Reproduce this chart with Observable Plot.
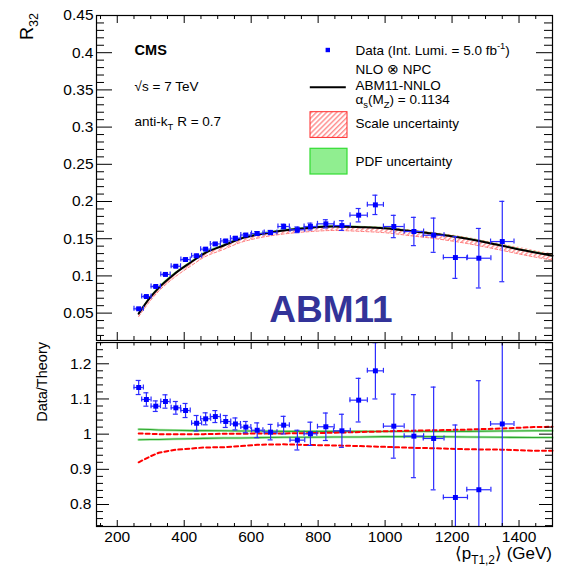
<!DOCTYPE html>
<html><head><meta charset="utf-8">
<script src="https://cdn.jsdelivr.net/npm/d3@7"></script>
<script src="https://cdn.jsdelivr.net/npm/@observablehq/plot@0.6"></script>
<style>
body{margin:0;background:#fff;}
#chart{width:565px;height:572px;}
#chart svg{display:block;}
</style></head><body>
<svg width="0" height="0" style="position:absolute">
 <defs>
  <pattern id="hatch" patternUnits="userSpaceOnUse" width="3.6" height="3.6" patternTransform="rotate(45)">
   <line x1="0.8" y1="0" x2="0.8" y2="3.6" stroke="#ff2020" stroke-width="0.75"/>
  </pattern>
 </defs>
</svg>
<div id="chart"></div>
<script>
// ---------- data ----------
const dataX   = [264, 287, 315, 344, 375, 404, 437, 464, 493, 524, 553, 584, 618, 658, 697, 738, 777, 823, 871, 921, 971, 1026, 1086, 1145, 1210, 1280, 1350];
const dataXErr= [14, 14, 14, 14, 14, 14, 15, 15, 15, 15, 15, 15, 17, 19, 17, 22, 19, 25, 25, 26, 24, 31, 29, 31, 36, 36, 35];
const r32     = [0.0558, 0.0723, 0.0858, 0.102, 0.113, 0.122, 0.127, 0.136, 0.143, 0.147, 0.1507, 0.155, 0.157, 0.1583, 0.1664, 0.162, 0.1664, 0.170, 0.1677, 0.1816, 0.1955, 0.1664, 0.1597, 0.1547, 0.1247, 0.1238, 0.1462];
const r32Err  = [0.0012, 0.0013, 0.0011, 0.0015, 0.0015, 0.0017, 0.0021, 0.0017, 0.0018, 0.0018, 0.0019, 0.0019, 0.0026, 0.0028, 0.0032, 0.0038, 0.0045, 0.0055, 0.0065, 0.009, 0.013, 0.015, 0.019, 0.023, 0.028, 0.040, 0.054];
const ratio   = [1.1326, 1.0985, 1.0795, 1.0928, 1.0748, 1.0672, 1.031, 1.0436, 1.050, 1.036, 1.029, 1.020, 1.011, 1.0057, 1.0256, 0.983, 1.001, 1.021, 1.0095, 1.0966, 1.180, 1.0227, 0.9943, 0.9877, 0.820, 0.842, 1.029];
const ratioErr= [0.020, 0.019, 0.015, 0.019, 0.018, 0.020, 0.022, 0.017, 0.017, 0.017, 0.017, 0.016, 0.021, 0.022, 0.025, 0.028, 0.033, 0.039, 0.047, 0.062, 0.080, 0.091, 0.118, 0.146, 0.206, 0.31, 0.37];

const theoryX   = [264, 299, 324, 369, 419, 458, 518, 568, 618, 697, 777, 847, 926, 996, 1086, 1146, 1245, 1345, 1444, 1500];
const theoryR32 = [0.0493, 0.0714, 0.0840, 0.1020, 0.1180, 0.1297, 0.1409, 0.1500, 0.1553, 0.1610, 0.1647, 0.1664, 0.1655, 0.1641, 0.1597, 0.1566, 0.1500, 0.1409, 0.1318, 0.1272];
const scaleLo   = [0.920, 0.937, 0.947, 0.955, 0.959, 0.962, 0.963, 0.966, 0.970, 0.971, 0.969, 0.968, 0.966, 0.964, 0.961, 0.960, 0.957, 0.956, 0.953, 0.953];
const scaleHi   = [1.002, 1.001, 1.000, 1.000, 1.000, 1.000, 1.001, 1.001, 1.002, 1.002, 1.003, 1.004, 1.006, 1.008, 1.010, 1.011, 1.013, 1.016, 1.020, 1.021];
const pdfLo     = [0.984, 0.985, 0.985, 0.986, 0.987, 0.988, 0.989, 0.989, 0.990, 0.991, 0.991, 0.992, 0.992, 0.993, 0.993, 0.993, 0.992, 0.991, 0.9905, 0.9905];
const pdfHi     = [1.014, 1.013, 1.012, 1.011, 1.010, 1.010, 1.0095, 1.009, 1.009, 1.008, 1.008, 1.008, 1.0078, 1.0076, 1.0076, 1.0076, 1.008, 1.009, 1.0095, 1.0095];

const xTickLabels   = [200, 400, 600, 800, 1000, 1200, 1400];
const yTopTickLabels= [0.05, 0.1, 0.15, 0.2, 0.25, 0.3, 0.35, 0.4, 0.45];
const yBotTickLabels= [0.8, 0.9, 1.0, 1.1, 1.2];

// ---------- tables ----------
const pts = dataX.map((x, i) => ({x, xe: dataXErr[i], y: r32[i], ye: r32Err[i], r: ratio[i], re: ratioErr[i]}));
const th = theoryX.map((x, i) => ({x, y: theoryR32[i], slo: scaleLo[i], shi: scaleHi[i], plo: pdfLo[i], phi: pdfHi[i]}));

const xMinor = d3.range(150, 1501, 50).filter(v => v % 200 !== 0);
const yTopMinor = d3.range(2, 45, 1).map(v => v / 100).filter(v => Math.round(v * 100) % 5 !== 0);
const yBotMinor = d3.range(74, 127, 2).map(v => v / 100).filter(v => Math.round(v * 100) % 10 !== 0);

const FONT = "'Liberation Sans', Arial, Helvetica, sans-serif";
const BLUE = "#0000ff", EBLUE = "#2b2bff";
const W = 565, ML = 96, MR = 13, FW = W - ML - MR;

function errorBars(yv, ev) {
  const c = {stroke: EBLUE, strokeWidth: 1.2, clip: true};
  return [
    Plot.ruleX(pts, {x: "x", y1: d => yv(d) - ev(d), y2: d => yv(d) + ev(d), ...c}),
    Plot.ruleY(pts, {y: yv, x1: d => d.x - d.xe, x2: d => d.x + d.xe, ...c}),
    Plot.ruleY(pts, {y: d => yv(d) - ev(d), x1: "x", x2: "x", insetLeft: -2.5, insetRight: -2.5, ...c}),
    Plot.ruleY(pts, {y: d => yv(d) + ev(d), x1: "x", x2: "x", insetLeft: -2.5, insetRight: -2.5, ...c}),
    Plot.ruleX(pts, {x: d => d.x - d.xe, y1: yv, y2: yv, insetTop: -2.5, insetBottom: -2.5, ...c}),
    Plot.ruleX(pts, {x: d => d.x + d.xe, y1: yv, y2: yv, insetTop: -2.5, insetBottom: -2.5, ...c}),
    Plot.dot(pts, {x: "x", y: yv, symbol: "square", r: 2.8, fill: BLUE, clip: true})
  ];
}

function frameTicks(fh, yMaj, yMin, yl, ys, xtl, xts, xbl, xbs) {
  const k = {stroke: "#000", strokeWidth: 1};
  return [
    Plot.ruleY(yMaj, {insetRight: FW - yl, ...k}),
    Plot.ruleY(yMaj, {insetLeft: FW - yl, ...k}),
    Plot.ruleY(yMin, {insetRight: FW - ys, ...k}),
    Plot.ruleY(yMin, {insetLeft: FW - ys, ...k}),
    Plot.ruleX(xTickLabels, {insetBottom: fh - xtl, ...k}),
    Plot.ruleX(xMinor, {insetBottom: fh - xts, ...k}),
    Plot.ruleX(xTickLabels, {insetTop: fh - xbl, ...k}),
    Plot.ruleX(xMinor, {insetTop: fh - xbs, ...k}),
    Plot.frame({stroke: "#000", strokeWidth: 1.2})
  ];
}

function rich(svg, o) {
  const t = d3.select(svg).append("text")
    .attr("x", o.x || 0).attr("y", o.y || 0)
    .attr("font-family", o.family || FONT).attr("font-size", o.size)
    .attr("font-weight", o.weight || "normal")
    .attr("fill", o.fill || "#000")
    .attr("text-anchor", o.anchor || "start");
  if (o.transform) t.attr("transform", o.transform);
  let cur = 0;
  for (const [s, k] of o.parts) {
    const target = k === "sub" ? o.size * 0.3 : k === "sup" ? -o.size * 0.4 : 0;
    t.append("tspan").attr("dy", target - cur).attr("font-size", k ? o.size * 0.7 : o.size).text(s);
    cur = target;
  }
}

// ---------- top panel ----------
const TOPH = 341, TMT = 15, TMB = 1, TFH = TOPH - TMT - TMB;
const topChart = Plot.plot({
  width: W, height: TOPH,
  marginTop: TMT, marginBottom: TMB, marginLeft: ML, marginRight: MR,
  style: {fontFamily: FONT, fontSize: "15.5px", color: "#000", background: "#fff"},
  x: {domain: [138, 1500], axis: null},
  y: {domain: [0.0132, 0.45], ticks: yTopTickLabels, tickSize: 0, tickPadding: 3,
      tickFormat: d => String(+d.toFixed(2)), label: null},
  marks: [
    Plot.areaY(th, {x: "x", y1: d => d.y * d.plo, y2: d => d.y * d.phi, fill: "#90ee90", curve: "monotone-x"}),
    Plot.areaY(th, {x: "x", y1: d => d.y * d.slo, y2: d => d.y * d.shi, fill: "url(#hatch)", curve: "monotone-x"}),
    Plot.line(th, {x: "x", y: d => d.y * d.slo, stroke: "#ff4040", strokeWidth: 0.7, strokeDasharray: "3,2", curve: "monotone-x"}),
    Plot.line(th, {x: "x", y: "y", stroke: "#000", strokeWidth: 2, curve: "monotone-x"}),
    ...errorBars(d => d.y, d => d.ye),
    ...frameTicks(TFH, yTopTickLabels, yTopMinor, 16, 8, 8, 4, 8, 4)
  ]
});

// ---------- bottom panel ----------
const BOTH = 231, BMT = 1, BMB = 46, BFH = BOTH - BMT - BMB;
const botChart = Plot.plot({
  width: W, height: BOTH,
  marginTop: BMT, marginBottom: BMB, marginLeft: ML, marginRight: MR,
  style: {fontFamily: FONT, fontSize: "15.5px", color: "#000", background: "#fff"},
  x: {domain: [138, 1500], ticks: xTickLabels, tickSize: 0, tickPadding: 4, tickFormat: d => String(d), label: null},
  y: {domain: [0.7375, 1.2605], ticks: yBotTickLabels, tickSize: 0, tickPadding: 5,
      tickFormat: d => String(+d.toFixed(1)), label: null},
  marks: [
    Plot.line(th, {x: "x", y: "phi", stroke: "#a8e6a8", strokeWidth: 2.6}),
    Plot.line(th, {x: "x", y: "plo", stroke: "#a8e6a8", strokeWidth: 2.6}),
    Plot.line(th, {x: "x", y: "phi", stroke: "#2ea82e", strokeWidth: 1.1}),
    Plot.line(th, {x: "x", y: "plo", stroke: "#2ea82e", strokeWidth: 1.1}),
    Plot.line(th, {x: "x", y: "shi", stroke: "#ff0000", strokeWidth: 2, strokeDasharray: "4,3"}),
    Plot.line(th, {x: "x", y: "slo", stroke: "#ff0000", strokeWidth: 2, strokeDasharray: "4,3"}),
    ...errorBars(d => d.r, d => d.re),
    ...frameTicks(BFH, yBotTickLabels, yBotMinor, 13, 7, 7, 3.5, 6, 3)
  ]
});

// ---------- text & legend overlays ----------
rich(topChart, {x: 134.6, y: 54.5, size: 14.5, weight: "bold", parts: [["CMS"]]});
rich(topChart, {x: 134.6, y: 90.5, size: 13.5, parts: [["√s = 7 TeV"]]});
rich(topChart, {x: 134.6, y: 126, size: 13.5, parts: [["anti-k"], ["T", "sub"], [" R = 0.7"]]});

const tsel = d3.select(topChart);
tsel.append("rect").attr("x", 325.6).attr("y", 47.8).attr("width", 4.4).attr("height", 4.4).attr("fill", BLUE);
rich(topChart, {x: 355.5, y: 54.5, size: 13.5, parts: [["Data (Int. Lumi. = 5.0 fb"], ["-1", "sup"], [")"]]});
rich(topChart, {x: 355.5, y: 74, size: 13.5, parts: [["NLO ⊗ NPC"]]});
tsel.append("line").attr("x1", 309.8).attr("x2", 345.8).attr("y1", 87.3).attr("y2", 87.3).attr("stroke", "#000").attr("stroke-width", 2);
rich(topChart, {x: 355.5, y: 89.5, size: 13.5, parts: [["ABM11-NNLO"]]});
rich(topChart, {x: 355.5, y: 103.5, size: 13.5, parts: [["α"], ["s", "sub"], ["(M"], ["Z", "sub"], [") = 0.1134"]]});
tsel.append("rect").attr("x", 310).attr("y", 111.7).attr("width", 37).attr("height", 25.7)
  .attr("fill", "url(#hatch)").attr("stroke", "#ff2a2a").attr("stroke-width", 1);
rich(topChart, {x: 355.5, y: 128, size: 13.5, parts: [["Scale uncertainty"]]});
tsel.append("rect").attr("x", 310).attr("y", 148.3).attr("width", 37).attr("height", 25.7)
  .attr("fill", "#90ee90").attr("stroke", "#33dd33").attr("stroke-width", 1.2);
rich(topChart, {x: 355.5, y: 165.5, size: 13.5, parts: [["PDF uncertainty"]]});

rich(topChart, {x: 331, y: 322, size: 37, weight: "bold", anchor: "middle", fill: "#333399", parts: [["ABM11"]]});
rich(topChart, {transform: "translate(33,13) rotate(-90)", size: 18, anchor: "end", parts: [["R"], ["32", "sub"]]});

rich(botChart, {transform: "translate(46.5,1) rotate(-90)", size: 14.5, anchor: "end", parts: [["Data/Theory"]]});
rich(botChart, {x: 552, y: 218, size: 17, anchor: "end", parts: [["⟨p"], ["T1,2", "sub"], ["⟩ (GeV)"]]});

const chart = document.getElementById("chart");
chart.appendChild(topChart);
chart.appendChild(botChart);
</script>
</body></html>
